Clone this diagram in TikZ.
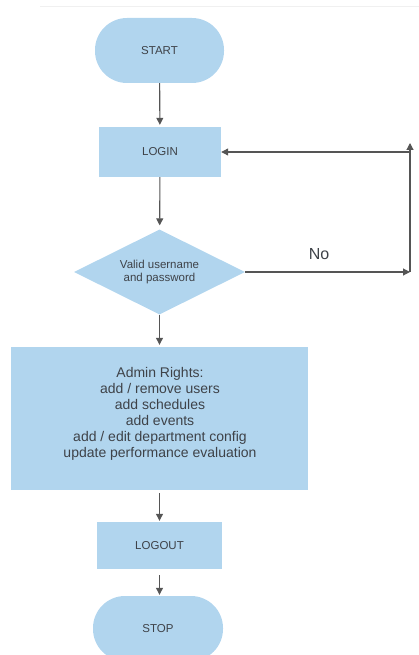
\documentclass[tikz,border=0pt]{standalone}
\usepackage{fontspec}
\setmainfont{Liberation Sans}
\usetikzlibrary{shapes.geometric,arrows.meta}
\definecolor{boxfill}{HTML}{B1D5EE}
\definecolor{txt}{HTML}{3E4248}
\definecolor{edge}{HTML}{555555}
\begin{document}
\begin{tikzpicture}[x=1pt,y=-1pt,
  term/.style={fill=boxfill,draw=none,rectangle,rounded corners=32pt,inner sep=0pt,
     text=txt,font=\fontsize{11.5}{13}\selectfont},
  proc/.style={fill=boxfill,draw=none,rectangle,inner sep=0pt,
     text=txt,font=\fontsize{11.5}{13}\selectfont},
  decide/.style={fill=boxfill,draw=none,diamond,aspect=2,inner sep=0pt,
     text=txt,align=center,font=\fontsize{11.5}{13}\selectfont},
  conn/.style={draw=edge,line width=1.1pt,-{Triangle[length=7pt,width=7pt]}}]
\useasboundingbox (0,0) rectangle (419,655);
\clip (0,0) rectangle (419,655);
\draw[color=black!6,line width=0.8pt] (40,6) -- (419,6);
\node[term,minimum width=129pt,minimum height=65pt] (start) at (159.5,50.5) {START};
\node[proc,minimum width=122pt,minimum height=50pt] (login) at (160,152) {LOGIN};
\node[decide,minimum width=171pt,minimum height=85pt] (dia) at (159.5,272) {Valid username\\and password};
\node[proc,minimum width=297pt,minimum height=143pt] (admin) at (159.5,418.5) {};
\node[text=txt,align=center,font=\fontsize{14}{16}\selectfont] (admintext) at (160,413.5)
  {Admin Rights:\\add / remove users\\add schedules\\add events\\add / edit department config\\update performance evaluation};
\node[proc,minimum width=125pt,minimum height=47pt] (logout) at (159.5,545.5) {LOGOUT};
\node[term,minimum width=130pt,minimum height=65pt] (stop) at (158,628.5) {STOP};
\node[text=txt,font=\fontsize{16}{18}\selectfont] (no) at (319,254) {No};
\coordinate (nr) at (410,272);
\coordinate (nt) at (410,143);
\coordinate (ntl) at (410,152);
\draw[conn,shorten >=2pt] (start) -- (login);
\draw[conn,shorten >=4pt] (login) -- (dia);
\draw[conn,shorten >=2pt] (dia) -- (admin);
\draw[conn,shorten <=3pt,shorten >=1pt] (admin.south) -- (logout.north);
\draw[conn,shorten <=6pt,shorten >=1pt] (logout.south) -- (stop.north -| logout.south);
\draw[conn] (dia.east) -- (nr);
\draw[conn] (nr) -- (nt);
\draw[conn] (ntl) -- (login.east);
\end{tikzpicture}
\end{document}
